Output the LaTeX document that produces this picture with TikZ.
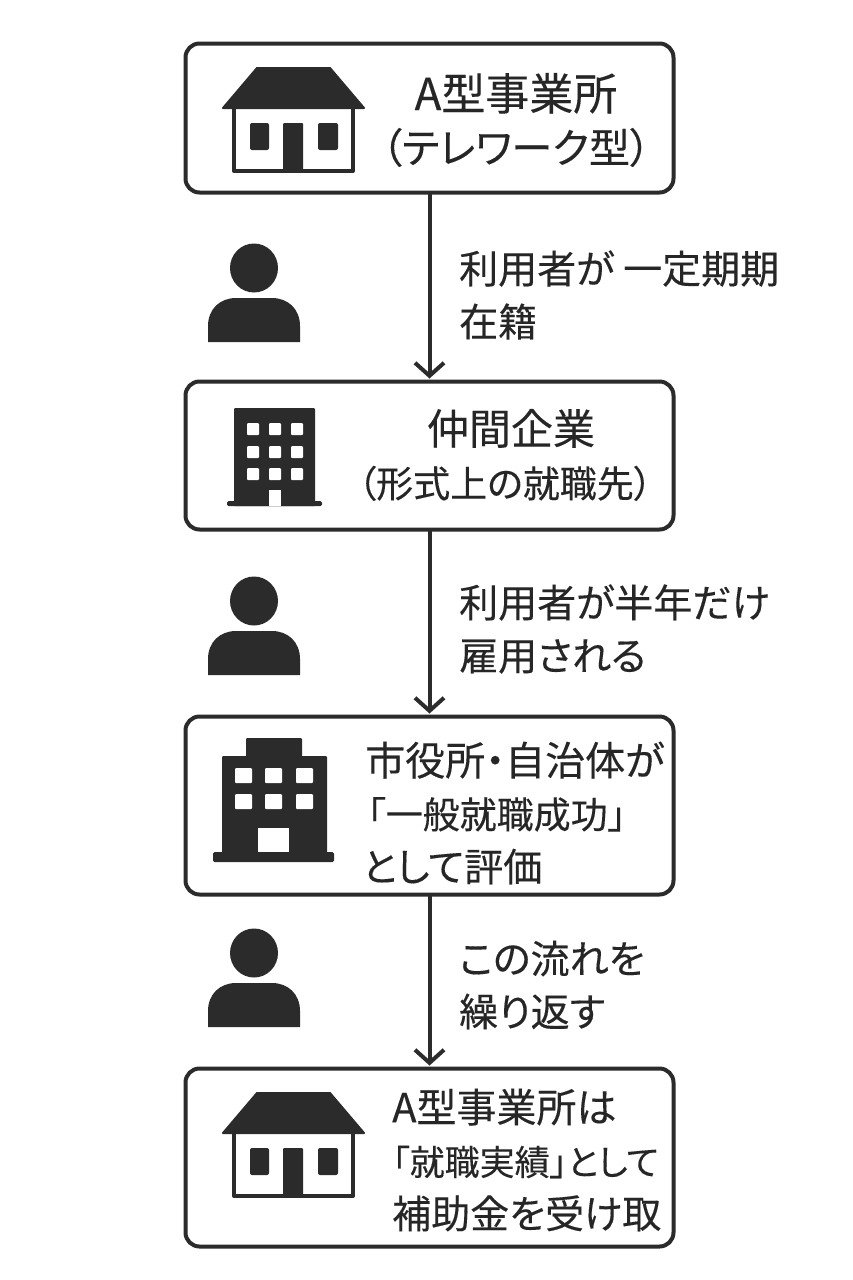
\documentclass[tikz,border=0pt]{standalone}
\usepackage{fontspec}
\setmainfont[RawFeature=+palt, FakeBold=0.25]{Noto Sans CJK JP}
\usetikzlibrary{arrows.meta}
\definecolor{ink}{HTML}{2B2B2B}
\newcommand{\linesize}[1]{\fontsize{#1}{53}\selectfont}
\tikzset{
    flowbox/.style={draw=ink, line width=4pt, rounded corners=14pt, minimum width=488pt, fill=white},
    flowarrow/.style={draw=ink, line width=4pt, shorten >=1pt, -{Straight Barb[length=13pt,width=29pt,line width=4pt]}},
    flowtext/.style={anchor=west, align=left, text=black!85, inner sep=0pt, font=\linesize{39}},
    housepic/.pic={
        \fill[ink, line join=round, draw=ink, line width=2pt](257,68)--(330,68)--(364,108)--(223,108)--cycle;
        \draw[ink, line width=4pt](234,108)--(234,171)--(353,171)--(353,108);
        \fill[ink, rounded corners=2pt](250,123)rectangle(269,150)(318,123)rectangle(338,150);
        \fill[ink, rounded corners=1pt](283,123)rectangle(303,171);
    },
    personpic/.pic={
        \fill[ink](254,268)circle[x radius=24, y radius=24.5];
        \fill[ink](208,342)--(208,326)..controls(208,309) and (220,298)..(236,298)--(272,298)..controls(288,298) and (300,309)..(300,326)--(300,342)--cycle;
    }
}
\begin{document}
\begin{tikzpicture}[x=1pt, y=-1pt, line cap=round, line join=round]
    \useasboundingbox[fill=white](0,0)rectangle(853,1280);
    % boxes
    \node[flowbox, minimum height=149pt](depot)at(429.5,118){};
    \node[flowbox, minimum height=148pt](partner)at(429.5,455.5){};
    \node[flowbox, minimum height=178pt](office)at(429.5,805.5){};
    \node[flowbox, minimum height=178pt](result)at(429.5,1157.5){};
    % arrows
    \draw[flowarrow](depot)--(partner);
    \draw[flowarrow](partner)--(office);
    \draw[flowarrow](office)--(result);
    % icons
    \pic at(0,0){housepic};
    \pic at(0,1025){housepic};
    \foreach \y in{0,333,685}
        \pic at(0,\y){personpic};
    % small building
    \fill[ink, rounded corners=1pt](234,408)rectangle(315,506);
    \fill[ink, rounded corners=1.5pt](227,501)rectangle(322,506);
    \foreach \x in{247,269,291}
        \foreach \y in{423,446,468}
            \fill[white, rounded corners=1pt](\x,\y)rectangle++(12,12);
    \fill[white](269,490)rectangle(281,506);
    % large building
    \fill[ink, rounded corners=1pt](246,738)rectangle(302,760)(222,756)rectangle(327,857);
    \fill[ink, rounded corners=1.5pt](213,852)rectangle(334,862);
    \foreach \x in{235,265,296}
        \foreach \y in{768,794}
            \fill[white, rounded corners=1pt](\x,\y)rectangle++(17,15);
    \fill[white](258,828)rectangle(289,852);
    % labels
    \node[flowtext, align=center, anchor=center](depottext)at(516,120){\linesize{44}A型事業所\\\linesize{41}（テレワーク型）};
    \node[flowtext, align=center, anchor=center](partnertext)at(505,455){\linesize{42}\hspace*{12pt}仲間企業\\\linesize{37}（形式上の就職先）};
    \node[flowtext](officetext)at(365,813){\linesize{40}市役所・自治体が\\\linesize{37}\hspace*{2pt}「一般就職成功」\\\hspace*{-3pt}\linesize{39}として評価};
    \node[flowtext](resulttext)at(392,1160){\linesize{40}A型事業所は\\\linesize{35}「就職実績」として\\\linesize{39}補助金を受け取};
    \node[flowtext](steptexta)at(459,295){利用者が 一定期期\\在籍};
    \node[flowtext](steptextb)at(459,629){利用者が半年だけ\\雇用される};
    \node[flowtext](steptextc)at(459,985){この流れを\\繰り返す};
\end{tikzpicture}
\end{document}
